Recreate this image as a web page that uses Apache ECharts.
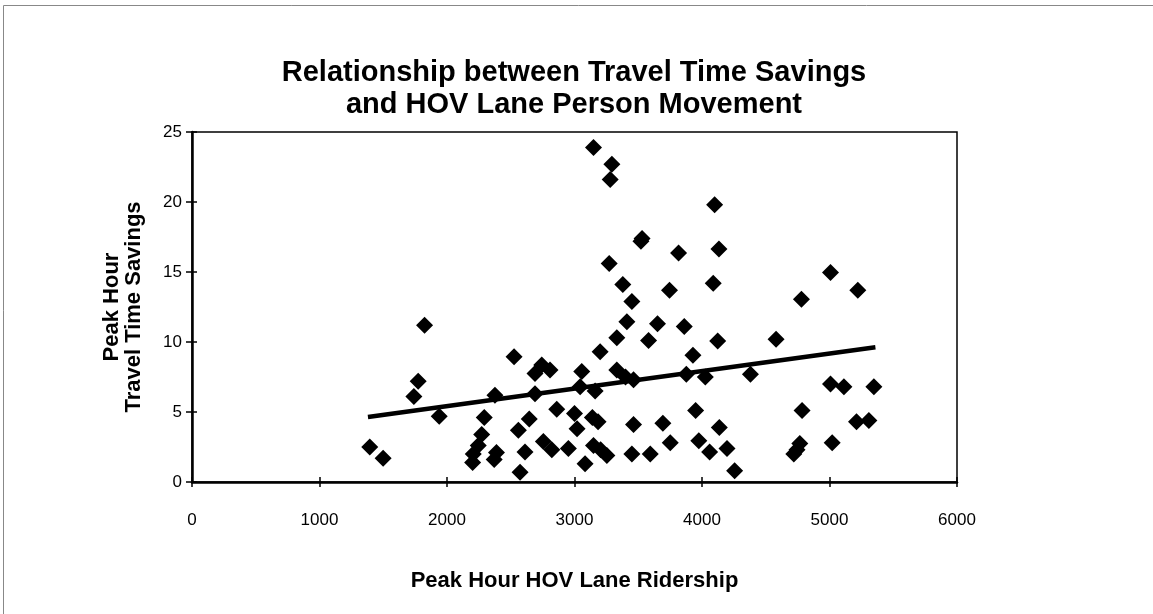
<!DOCTYPE html>
<html>
<head>
<meta charset="utf-8">
<title>Travel Time Savings vs HOV Lane Person Movement</title>
<script src="https://cdn.jsdelivr.net/npm/echarts@6/dist/echarts.min.js"></script>
<style>
  html, body { margin: 0; padding: 0; background: #fff; }
  #chart { width: 1153px; height: 614px; }
</style>
</head>
<body>
<div id="chart"></div>
<script>
// ridership (persons / peak hour) and travel time savings (minutes)
const ridership = [
  1394, 1499, 1740, 1774, 1824, 1939, 2201, 2206, 2245, 2272,
  2292, 2370, 2388, 2376, 2526, 2560, 2573, 2612, 2645, 2690,
  2690, 2743, 2808, 2756, 2822, 2861, 2952, 3000, 3020, 3044,
  3057, 3083, 3140, 3185, 3149, 3162, 3201, 3205, 3254, 3149,
  3293, 3280, 3272, 3332, 3332, 3400, 3379, 3411, 3450, 3463,
  3463, 3450, 3521, 3530, 3581, 3594, 3651, 3693, 3745, 3751,
  3816, 3861, 3929, 3877, 3950, 3975, 4026, 4060, 4099, 4133,
  4088, 4123, 4136, 4196, 4256, 4380, 4581, 4720, 4745, 4767,
  4785, 4780, 5008, 5008, 5021, 5113, 5212, 5222, 5309, 5348
]
const timeSavings = [
  2.5, 1.7, 6.1, 7.2, 11.2, 4.7, 1.4, 2.0, 2.6, 3.4,
  4.6, 1.6, 2.1, 6.2, 8.95, 3.7, 0.7, 2.15, 4.5, 6.3,
  7.75, 8.35, 8.0, 2.9, 2.3, 5.2, 2.4, 4.9, 3.8, 6.8,
  7.9, 1.3, 4.6, 4.3, 2.6, 6.5, 9.3, 2.3, 1.9, 23.9,
  22.7, 21.6, 15.6, 10.3, 8.0, 7.5, 14.1, 11.45, 12.9, 7.3,
  4.1, 2.0, 17.2, 17.4, 10.1, 2.0, 11.3, 4.2, 13.7, 2.8,
  16.35, 11.1, 9.05, 7.7, 5.1, 2.95, 7.5, 2.15, 19.8, 16.65,
  14.2, 10.07, 3.9, 2.4, 0.8, 7.7, 10.2, 2.0, 2.3, 2.75,
  5.1, 13.05, 14.96, 7.0, 2.8, 6.8, 4.3, 13.7, 4.4, 6.8
]
// fitted trend line, end points
const trendX = [1380, 5360]
const trendY = [4.65, 9.62]

const xTicks = [0, 1000, 2000, 3000, 4000, 5000, 6000]
const yTicks = [0, 5, 10, 15, 20, 25]

const points = ridership.map((x, i) => [x, timeSavings[i]])
const trend = trendX.map((x, i) => [x, trendY[i]])

const chart = echarts.init(document.getElementById('chart'))

const fontFamily = '"Liberation Sans", Arial, sans-serif'
const axisLine = { lineStyle: { color: '#000', width: 2.5 } }
const tickStyle = { color: '#000', width: 1.5 }

chart.setOption({
  animation: false,
  title: {
    text: 'Relationship between Travel Time Savings\nand HOV Lane Person Movement',
    left: 569,
    top: 52,
    textAlign: 'center',
    textStyle: {
      fontFamily,
      fontSize: 29,
      fontWeight: 'bold',
      color: '#000',
      lineHeight: 32,
    },
  },
  graphic: [
    {
      type: 'rect',
      shape: { x: 3.5, y: 5.5, width: 1160, height: 620 },
      style: { fill: 'none', stroke: '#888', lineWidth: 1 },
      silent: true,
    },
  ],
  grid: {
    left: 192,
    right: 196,
    top: 132,
    bottom: 132,
    show: true,
    borderColor: '#000',
    borderWidth: 1.5,
  },
  xAxis: [
    {
      type: 'value',
      min: xTicks[0],
      max: xTicks[xTicks.length - 1],
      interval: 1000,
      name: 'Peak Hour HOV Lane Ridership',
      nameLocation: 'middle',
      nameGap: 88,
      nameTextStyle: { fontFamily, fontSize: 22, fontWeight: 'bold', color: '#000' },
      axisLine,
      axisTick: { show: true, length: 5, lineStyle: tickStyle },
      axisLabel: { fontFamily, fontSize: 17, color: '#000', margin: 30, formatter: (v) => String(v) },
      splitLine: { show: false },
    },
    {
      // inside half of the crossing tick marks
      type: 'value',
      position: 'bottom',
      min: xTicks[0],
      max: xTicks[xTicks.length - 1],
      interval: 1000,
      axisLine: { show: false },
      axisTick: { show: true, inside: true, length: 5, lineStyle: tickStyle },
      axisLabel: { show: false },
      splitLine: { show: false },
    },
  ],
  yAxis: [
    {
      type: 'value',
      min: yTicks[0],
      max: yTicks[yTicks.length - 1],
      interval: 5,
      name: 'Peak Hour\nTravel Time Savings',
      nameLocation: 'middle',
      nameGap: 47,
      nameTextStyle: { fontFamily, fontSize: 22, fontWeight: 'bold', color: '#000', lineHeight: 22 },
      axisLine,
      axisTick: { show: true, length: 6, lineStyle: tickStyle },
      axisLabel: { fontFamily, fontSize: 17, color: '#000', margin: 10 },
      splitLine: { show: false },
    },
    {
      type: 'value',
      position: 'left',
      min: yTicks[0],
      max: yTicks[yTicks.length - 1],
      interval: 5,
      axisLine: { show: false },
      axisTick: { show: true, inside: true, length: 5, lineStyle: tickStyle },
      axisLabel: { show: false },
      splitLine: { show: false },
    },
  ],
  series: [
    {
      type: 'scatter',
      data: points,
      symbol: 'diamond',
      symbolSize: 17,
      itemStyle: { color: '#000', opacity: 1 },
      z: 3,
    },
    {
      type: 'line',
      data: trend,
      symbol: 'none',
      lineStyle: { color: '#000', width: 4.5 },
      z: 4,
    },
  ],
})
</script>
</body>
</html>
